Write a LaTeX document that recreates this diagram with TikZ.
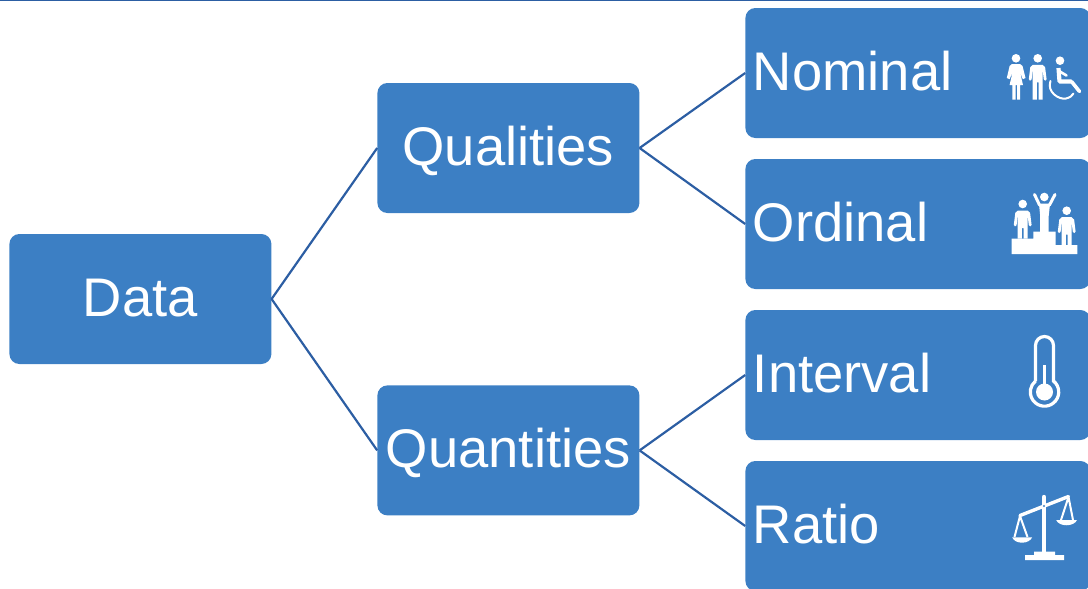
\documentclass[tikz,border=0pt]{standalone}
\usepackage{fontspec}
\setmainfont{Liberation Sans}
\definecolor{boxblue}{HTML}{3C7FC4}
\definecolor{linkblue}{HTML}{2C5EA3}
\tikzset{
  x=1pt,y=-1pt,
  databox/.style={draw=none,fill=boxblue,rounded corners=10pt,minimum width=262pt,minimum height=130pt,inner sep=0pt,text=white,font=\fontsize{54.4}{60}\selectfont,text height=35pt,text depth=0pt},
  leafbox/.style={databox,minimum width=345pt,text width=330pt,align=left},
  link/.style={draw=linkblue,line width=2.2pt},
  ico/.style={draw=white,line width=3pt,line cap=round,line join=round},
}
\newcommand{\personicon}[3]{% head x, head y, leg bottom y
  \fill[white] (#1,#2) circle (4.3);
  \draw[ico,line width=2.8pt] (#1-6,#2+9) -- (#1-7.5,#2+21);
  \draw[ico,line width=2.8pt] (#1+6,#2+9) -- (#1+7.5,#2+21);
  \fill[white] (#1-5,#2+6.5) -- (#1+5,#2+6.5) -- (#1+7,#2+9) -- (#1+5,#2+14) -- (#1+5,#3) -- (#1+0.8,#3) -- (#1+0.8,#2+24) -- (#1-0.8,#2+24) -- (#1-0.8,#3) -- (#1-5,#3) -- (#1-5,#2+14) -- (#1-7,#2+9) -- cycle;
}
\begin{document}
\begin{tikzpicture}
\useasboundingbox (0,0) rectangle (1088,589);
\fill[linkblue] (0,0) rectangle (1088,1.2);
\node[databox] (data) at (140.4,299) {Data};
\node[databox] (qual) at (508.4,148) {Qualities};
\node[databox] (quan) at (508.4,450.4) {Quantities};
\node[leafbox] (nom) at (917.9,73) {Nominal};
\node[leafbox] (ord) at (917.9,224) {Ordinal};
\node[leafbox] (int) at (917.9,375) {Interval};
\node[leafbox] (rat) at (917.9,526) {Ratio};
\draw[link] (data.east) -- (qual.west);
\draw[link] (data.east) -- (quan.west);
\draw[link] (qual.east) -- (nom.west);
\draw[link] (qual.east) -- (ord.west);
\draw[link] (quan.east) -- (int.west);
\draw[link] (quan.east) -- (rat.west);
% nominal icon
\fill[white] (1016,58.3) circle (4.3);
\fill[white] (1012,64) -- (1020,64) -- (1022.5,66) -- (1025.5,78) -- (1022.8,79.2) -- (1020,72) -- (1023,85) -- (1020.2,85) -- (1020.2,99.5) -- (1017,99.5) -- (1017,85) -- (1015.6,85) -- (1015.6,99.5) -- (1012.4,99.5) -- (1012.4,85) -- (1009.6,85) -- (1012.6,72) -- (1009.6,79.2) -- (1006.8,78) -- (1009.6,66) -- cycle;
\personicon{1037.7}{58.3}{99.5}
\fill[white] (1060,60.7) circle (4.3);
\draw[ico,line width=4.2pt,line cap=butt] (1058.5,68) -- (1059.5,81.5) -- (1071.5,81.5);
\draw[ico,line width=3.6pt] (1071.5,81.5) -- (1079.5,91.5);
\draw[ico,line width=2.6pt] (1059,71) -- (1066.5,75.5);
\draw[ico,line width=2pt] (1050.5,81) .. controls (1046.5,92) and (1059,100) .. (1066,98.5) .. controls (1070,97.5) and (1072,96) .. (1073.5,93.5);
% ordinal icon
\fill[white] (1011.7,238.5) -- (1033.3,238.5) -- (1033.3,231.7) -- (1055.7,231.7) -- (1055.7,245) -- (1077.3,245) -- (1077.3,254) -- (1011.7,254) -- cycle;
\personicon{1022.7}{204}{238.5}
\personicon{1066.7}{210.7}{245}
\fill[white] (1044.3,197) circle (4.3);
\draw[ico] (1034.5,194.5) -- (1039.5,205) -- (1049.5,205) -- (1055,194.5);
\fill[white] (1039,204) -- (1050,204) -- (1048.7,216) -- (1048.7,232) -- (1040.2,232) -- (1040.2,216) -- cycle;
% interval icon
\draw[draw=white,line width=3.2pt] (1035.5,381) -- (1035.5,345.5) arc[start angle=180,end angle=360,radius=9] -- (1053.5,381) arc[start angle=-50.7,end angle=230.7,radius=14.2];
\fill[white] (1044.5,392) circle (8.5);
\draw[draw=white,line width=2.4pt] (1044.5,365) -- (1044.5,390);
% ratio icon
\draw[draw=white,line width=4.4pt,line cap=round] (1044,497) -- (1044,553);
\draw[draw=white,line width=3.4pt,line cap=round] (1020,515.5) -- (1068.5,496.5);
\fill[boxblue] (1044,506) circle (1.1);
\draw[draw=white,line width=2pt,line join=round] (1014.5,537) -- (1020,516) -- (1027.5,537);
\draw[draw=white,line width=2pt,line join=round] (1061,520) -- (1068.5,497) -- (1073,520);
\fill[white] (1012.2,537.3) -- (1032.2,537.3) .. controls (1029,544.5) and (1015,544.5) .. (1012.2,537.3) -- cycle;
\fill[white] (1056.2,520) -- (1077,520) .. controls (1074,527) and (1059,527) .. (1056.2,520) -- cycle;
\fill[white] (1025,555) -- (1034,555) -- (1034,551.5) -- (1055,551.5) -- (1055,555) -- (1064,555) -- (1064,560) -- (1025,560) -- cycle;
\end{tikzpicture}
\end{document}
